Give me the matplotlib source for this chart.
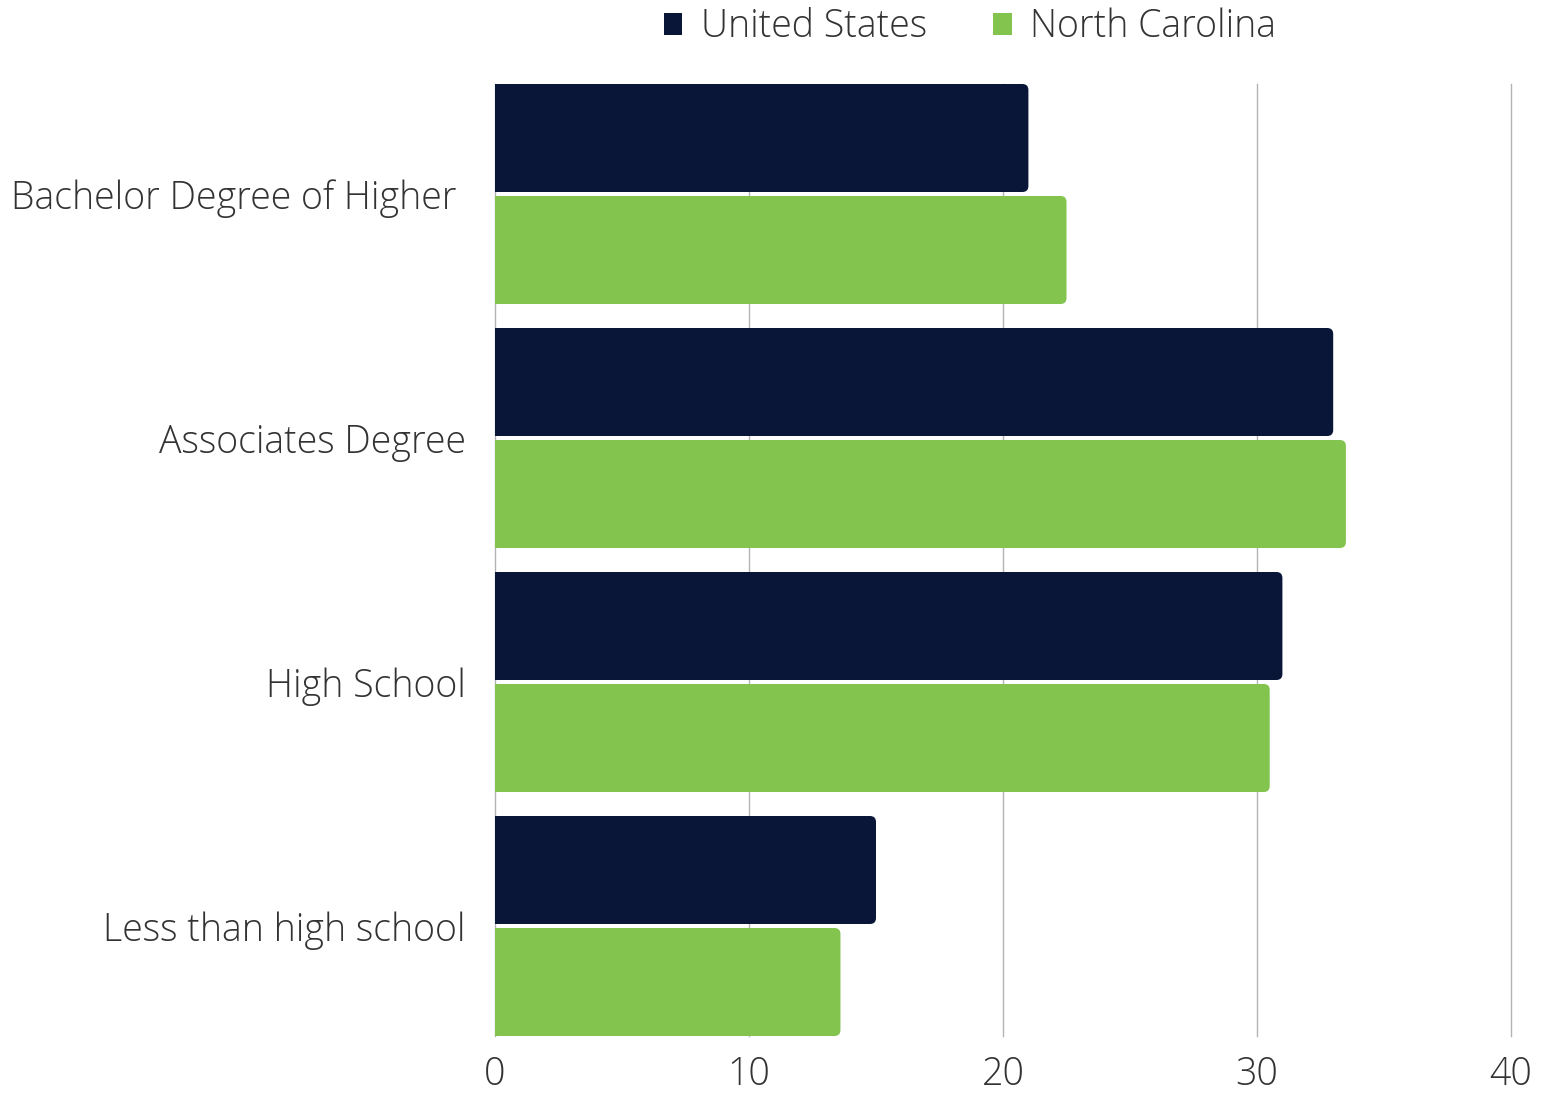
#!/usr/bin/env python3
"""Education attainment: United States vs North Carolina, horizontal bars."""

import matplotlib
matplotlib.use('Agg')
import matplotlib.pyplot as plt
from matplotlib.patches import FancyBboxPatch, Patch
import numpy as np

CATEGORIES = ["Bachelor Degree of Higher ", "Associates Degree", "High School", "Less than high school"]
US_VALUES = [21.0, 33.0, 31.0, 15.0]
NC_VALUES = [22.5, 33.5, 30.5, 13.6]
SERIES = ["United States", "North Carolina"]
X_TICKS = [0, 10, 20, 30, 40]

NAVY = '#0a1638'
GREEN = '#82c44e'
TEXT = '#333333'
GRID = '#b3b3b3'
FS = 27


def round_bars(ax, bars, radius_px=6):
    """Swap plain bar rectangles for ones with rounded ends."""
    fig = ax.figure
    fig.canvas.draw()
    x0, x1 = ax.get_xlim()
    y0, y1 = ax.get_ylim()
    bb = ax.get_window_extent()
    px_x = bb.width / (x1 - x0)
    px_y = bb.height / abs(y1 - y0)
    rx = radius_px / px_x
    for rect in bars:
        x, y = rect.get_x(), rect.get_y()
        w, h = rect.get_width(), rect.get_height()
        # start left of zero so the left corners get clipped away
        patch = FancyBboxPatch((x - 2 * rx, y), w + 2 * rx, h,
                               boxstyle=f"round,pad=0,rounding_size={rx}",
                               mutation_aspect=px_x / px_y,
                               facecolor=rect.get_facecolor(), edgecolor='none',
                               zorder=3)
        ax.add_patch(patch)
        rect.remove()


def main():
    plt.rcParams['font.family'] = ['Open Sans', 'DejaVu Sans']
    plt.rcParams['font.weight'] = 'light'

    fig = plt.figure(figsize=(15.48, 10.97), dpi=100)
    ax = fig.add_axes([495 / 1548, 1 - 1036 / 1097, (1511 - 495) / 1548, (1036 - 84) / 1097])

    pos = np.arange(len(CATEGORIES))
    h = 108 / 244
    off = 56 / 244
    b1 = ax.barh(pos - off, US_VALUES, height=h, color=NAVY, zorder=3)
    b2 = ax.barh(pos + off, NC_VALUES, height=h, color=GREEN, zorder=3)

    half = 110 / 244
    ax.set_ylim(len(CATEGORIES) - 1 + half, -half)
    ax.set_xlim(0, 40)

    ax.set_yticks(pos)
    ax.set_yticklabels(CATEGORIES, fontsize=FS, color=TEXT)
    ax.set_xticks(X_TICKS)
    ax.set_xticklabels([str(t) for t in X_TICKS], fontsize=FS, color=TEXT)
    ax.tick_params(axis='both', length=0)
    ax.tick_params(axis='y', pad=21)
    ax.tick_params(axis='x', pad=14)

    for s in ax.spines.values():
        s.set_visible(False)
    for t in X_TICKS:
        ax.axvline(t, color=GRID, linewidth=1, zorder=1, clip_on=False)

    round_bars(ax, list(b1) + list(b2))

    handles = [Patch(facecolor=NAVY, edgecolor='none'), Patch(facecolor=GREEN, edgecolor='none')]
    fig.legend(handles, SERIES, loc='center', bbox_to_anchor=(970 / 1548, 1 - 27 / 1097),
               ncol=2, frameon=False, fontsize=FS, labelcolor=TEXT,
               handlelength=0.5, handleheight=0.5, handletextpad=0.5, columnspacing=1.75,
               borderaxespad=0, borderpad=0)

    plt.savefig('out.png', dpi=100)


if __name__ == "__main__":
    main()
